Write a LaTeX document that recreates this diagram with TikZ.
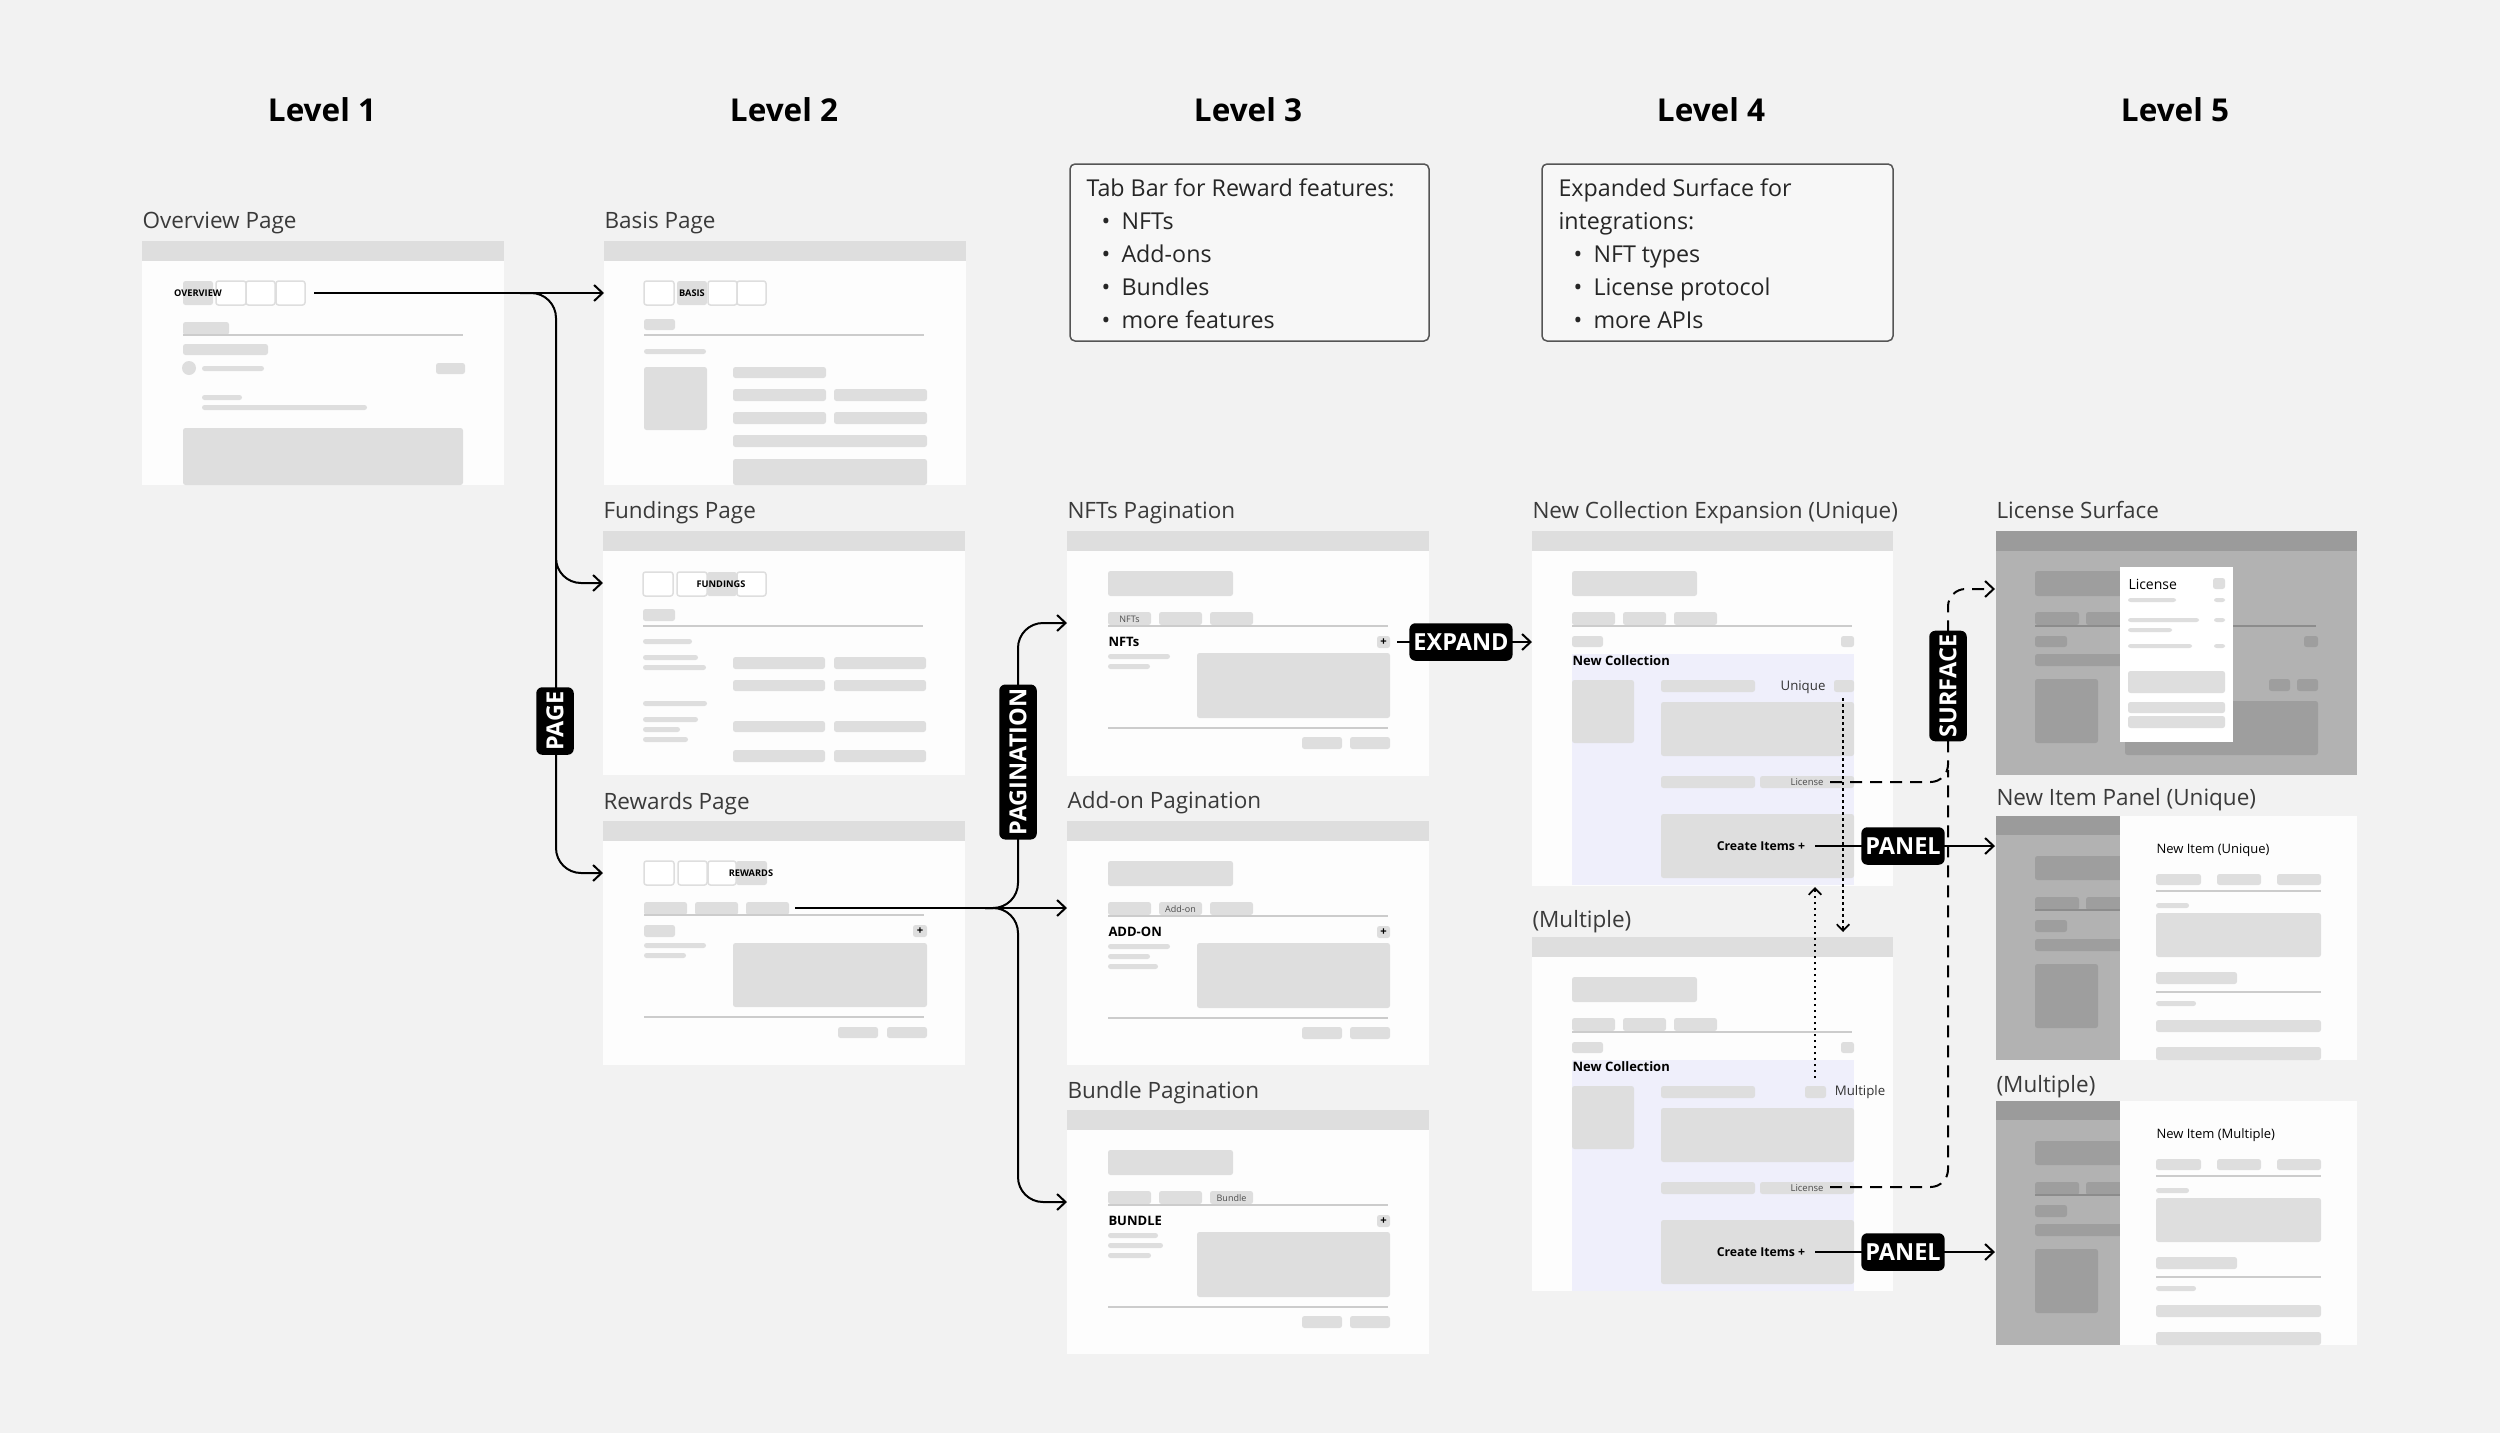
\documentclass[tikz,border=0pt]{standalone}
\usepackage{fontspec}
\setmainfont{Open Sans}
\usetikzlibrary{arrows.meta}
\definecolor{bgc}{HTML}{F2F2F2}
\definecolor{framec}{HTML}{FDFDFD}
\definecolor{barc}{HTML}{DEDEDE}
\definecolor{elc}{HTML}{DEDEDE}
\definecolor{linec}{HTML}{CCCCCC}
\definecolor{lav}{HTML}{EFEFFB}
\definecolor{dimbg}{HTML}{B2B2B2}
\definecolor{dimbar}{HTML}{9B9B9B}
\definecolor{dimel}{HTML}{9E9E9E}
\definecolor{titlec}{HTML}{3A3A3A}
\definecolor{boxc}{HTML}{555555}
\newcommand\myfs[1]{\fontsize{#1}{#1}\selectfont}
\tikzset{
  el/.style={fill=elc, rounded corners=1pt},
  de/.style={fill=dimel, rounded corners=1pt},
  tabo/.style={draw=barc, line width=0.6pt, fill=white, rounded corners=1pt},
  sep/.style={draw=linec, line width=0.5pt},
  dsep/.style={draw=black!45, line width=0.5pt},
  ftitle/.style={anchor=base west, inner sep=0pt, text=titlec, font=\myfs{9.0pt}},
  lvl/.style={anchor=base, inner sep=0pt, font=\bfseries\myfs{12.6pt}},
  boxtxt/.style={anchor=base west, inner sep=0pt, text=black!85, font=\myfs{9.3pt}},
  tabtxt/.style={inner sep=0pt, font=\bfseries\myfs{3.7pt}},
  pilltxt/.style={inner sep=0pt, text=black!70, font=\myfs{3.6pt}},
  head/.style={anchor=west, inner sep=0pt, font=\bfseries\myfs{5.2pt}},
  plus/.style={inner sep=0pt, font=\bfseries\myfs{4.5pt}},
  small/.style={inner sep=0pt, text=black!80, font=\myfs{5.3pt}},
  conn/.style={line width=0.8pt, -{Straight Barb[length=3.4pt,width=6.4pt]}},
  sconn/.style={line width=0.7pt, -{Straight Barb[length=2.6pt,width=5pt]}},
  dashln/.style={line width=0.8pt, dash pattern=on 4.8pt off 3.2pt},
  dotln/.style={line width=0.7pt, dash pattern=on 1pt off 1.4pt},
  tag/.style={fill=black, text=white, font=\bfseries\myfs{9.4pt}, rounded corners=2.4pt, inner xsep=1.6pt, inner ysep=0pt, minimum height=15pt},
  lbox/.style={draw=boxc, line width=0.6pt, fill=bgc!60!white, rounded corners=2pt},
}
\newcommand\wframe[3]{\fill[framec] (#1,#2) rectangle ++(362,#3); \fill[barc] (#1,#2) rectangle ++(362,20);}
\newcommand\pagcommon[1]{%
  \fill[el] (41,40) rectangle (166,65);
  \fill[el] (41,81) rectangle (84,94);
  \fill[el] (92,81) rectangle (135,94);
  \fill[el] (143,81) rectangle (186,94);
  \draw[sep] (41,95) -- (321,95);
  \fill[el] (310,105) rectangle (323,117);
  \node[plus] (#1plus) at (316.5,111) {+};
  \fill[el] (130,122) rectangle (323,187);
  \draw[sep] (41,197) -- (321,197);
  \fill[el] (235,206) rectangle (275,218);
  \fill[el] (283,206) rectangle (323,218);
}
\newcommand\ncecommon[1]{%
  \fill[el] (40,40) rectangle (165,65);
  \fill[el] (40,81) rectangle (83,94);
  \fill[el] (91,81) rectangle (134,94);
  \fill[el] (142,81) rectangle (185,94);
  \draw[sep] (40,95) -- (320,95);
  \fill[el] (40,105) rectangle (71,116);
  \fill[el] (309,105) rectangle (322,116);
  \fill[lav] (40,123) rectangle (322,354);
  \node[head, font=\bfseries\myfs{5.2pt}] (#1nc) at (40,130) {New Collection};
  \fill[el] (40,149) rectangle (102,212);
  \fill[el] (129,149) rectangle (223,161);
  \fill[el] (129,171) rectangle (322,225);
  \fill[el] (129,245) rectangle (223,257);
  \fill[el] (228,245) rectangle (322,257);
  \node[pilltxt, font=\myfs{3.8pt}] (#1lic) at (275,251) {License};
  \fill[el] (129,283) rectangle (322,347);
  \node[inner sep=0pt, font=\bfseries\myfs{4.9pt}] (#1ci) at (229,315) {Create Items +};
}
\newcommand\newitem[2]{%
  \fill[dimbg] (0,0) rectangle (124,244);
  \fill[dimbar] (0,0) rectangle (124,19);
  \fill[de] (39,40) rectangle (140,64);
  \fill[de] (39,81) rectangle (83,94);
  \fill[de] (90,81) rectangle (134,94);
  \draw[dsep] (39,94) -- (130,94);
  \fill[de] (39,104) rectangle (71,116);
  \fill[de] (39,123) rectangle (140,135);
  \fill[de] (39,148) rectangle (102,212);
  \fill[framec] (124,0) rectangle (361,244);
  \node[anchor=west, inner sep=0pt, font=\myfs{5.2pt}] (#1t) at (160,34) {#2};
  \fill[el] (160,58) rectangle (205,69);
  \fill[el] (221,58) rectangle (265,69);
  \fill[el] (281,58) rectangle (325,69);
  \draw[sep] (160,75) -- (325,75);
  \fill[el] (160,87) rectangle (193,92);
  \fill[el] (160,97) rectangle (325,141);
  \fill[el] (160,156) rectangle (241,168);
  \draw[sep] (160,176) -- (325,176);
  \fill[el] (160,185) rectangle (200,190);
  \fill[el] (160,204) rectangle (325,216);
  \fill[el] (160,231) rectangle (325,244);
}
\begin{document}
\begin{tikzpicture}[x=0.4pt, y=-0.4pt]
\useasboundingbox (0,0) rectangle (2500,1433);
\fill[bgc] (0,0) rectangle (2500,1433);

% level headings
\node[lvl] (l1) at (322,121) {Level 1};
\node[lvl] (l2) at (784,121) {Level 2};
\node[lvl] (l3) at (1248,121) {Level 3};
\node[lvl] (l4) at (1711,121) {Level 4};
\node[lvl] (l5) at (2175,121) {Level 5};

% level text boxes
\draw[lbox] (1070,164) rectangle (1429,341);
\node[boxtxt] (b3a) at (1086,196) {Tab Bar for Reward features:};
\node[boxtxt] (b3b1) at (1101,229) {•}; \node[boxtxt] (b3b) at (1121,229) {NFTs};
\node[boxtxt] (b3c1) at (1101,262) {•}; \node[boxtxt] (b3c) at (1121,262) {Add-ons};
\node[boxtxt] (b3d1) at (1101,295) {•}; \node[boxtxt] (b3d) at (1121,295) {Bundles};
\node[boxtxt] (b3e1) at (1101,328) {•}; \node[boxtxt] (b3e) at (1121,328) {more features};
\draw[lbox] (1542,164) rectangle (1893,341);
\node[boxtxt] (b4a) at (1558,196) {Expanded Surface for};
\node[boxtxt] (b4b) at (1558,229) {integrations:};
\node[boxtxt] (b4c1) at (1573,262) {•}; \node[boxtxt] (b4c) at (1593,262) {NFT types};
\node[boxtxt] (b4d1) at (1573,295) {•}; \node[boxtxt] (b4d) at (1593,295) {License protocol};
\node[boxtxt] (b4e1) at (1573,328) {•}; \node[boxtxt] (b4e) at (1593,328) {more APIs};

% titles
\node[ftitle] (tov) at (142,228) {Overview Page};
\node[ftitle] (tba) at (604,228) {Basis Page};
\node[ftitle] (tfu) at (603,518) {Fundings Page};
\node[ftitle] (tre) at (603,809) {Rewards Page};
\node[ftitle] (tnf) at (1067,518) {NFTs Pagination};
\node[ftitle] (tad) at (1067,808) {Add-on Pagination};
\node[ftitle] (tbu) at (1067,1098) {Bundle Pagination};
\node[ftitle] (tnu) at (1532,518) {New Collection Expansion (Unique)};
\node[ftitle] (tnm) at (1532,927) {(Multiple)};
\node[ftitle] (tls) at (1996,518) {License Surface};
\node[ftitle] (tiu) at (1996,805) {New Item Panel (Unique)};
\node[ftitle] (tim) at (1996,1092) {(Multiple)};

% Overview
\wframe{142}{241}{244}
\begin{scope}[shift={(142,241)}]
\fill[el] (41,40) rectangle (71,64);
\draw[tabo] (74,40) rectangle (104,64);
\draw[tabo] (104,40) rectangle (133,64);
\draw[tabo] (134,40) rectangle (163,64);
\node[tabtxt] (ovtab) at (56,52) {OVERVIEW};
\fill[el] (41,81) rectangle (87,94);
\draw[sep] (41,94) -- (321,94);
\fill[el] (41,103) rectangle (126,114);
\fill[elc] (47,127) circle[radius=2.8pt];
\fill[el] (60,125) rectangle (122,130);
\fill[el] (294,122) rectangle (323,133);
\fill[el] (60,154) rectangle (100,159);
\fill[el] (60,164) rectangle (225,169);
\fill[el] (41,187) rectangle (321,244);
\end{scope}

% Basis
\wframe{604}{241}{244}
\begin{scope}[shift={(604,241)}]
\draw[tabo] (40,40) rectangle (70,64);
\fill[el] (73,40) rectangle (103,64);
\draw[tabo] (104,40) rectangle (133,64);
\draw[tabo] (133,40) rectangle (162,64);
\node[tabtxt] (batab) at (88,52) {BASIS};
\fill[el] (40,78) rectangle (71,89);
\draw[sep] (40,94) -- (320,94);
\fill[el] (40,108) rectangle (102,113);
\fill[el] (40,126) rectangle (103,189);
\fill[el] (129,126) rectangle (222,137);
\fill[el] (129,148) rectangle (222,160); \fill[el] (230,148) rectangle (323,160);
\fill[el] (129,171) rectangle (222,183); \fill[el] (230,171) rectangle (323,183);
\fill[el] (129,194) rectangle (323,206);
\fill[el] (129,218) rectangle (323,244);
\end{scope}

% Fundings
\wframe{603}{531}{244}
\begin{scope}[shift={(603,531)}]
\draw[tabo] (40,41) rectangle (70,65);
\draw[tabo] (74,41) rectangle (104,65);
\fill[el] (104,41) rectangle (134,65);
\draw[tabo] (134,41) rectangle (163,65);
\node[tabtxt] (futab) at (118,53) {FUNDINGS};
\fill[el] (40,78) rectangle (72,90);
\draw[sep] (40,95) -- (320,95);
\fill[el] (40,108) rectangle (89,113);
\fill[el] (40,124) rectangle (95,129);
\fill[el] (40,134) rectangle (103,139);
\fill[el] (40,170) rectangle (104,175);
\fill[el] (40,186) rectangle (95,191);
\fill[el] (40,196) rectangle (77,201);
\fill[el] (40,206) rectangle (85,211);
\foreach \ya/\yb in {126/138,149/160,190/201,219/231}{
  \fill[el] (130,\ya) rectangle (222,\yb);
  \fill[el] (231,\ya) rectangle (323,\yb);}
\end{scope}

% Rewards
\wframe{603}{821}{244}
\begin{scope}[shift={(603,821)}]
\draw[tabo] (41,40) rectangle (71,64);
\draw[tabo] (75,40) rectangle (104,64);
\draw[tabo] (105,40) rectangle (133,64);
\fill[el] (133,40) rectangle (164,64);
\node[tabtxt] (retab) at (148,52) {REWARDS};
\fill[el] (41,81) rectangle (84,94);
\fill[el] (92,81) rectangle (135,94);
\fill[el] (143,81) rectangle (186,94);
\draw[sep] (41,94) -- (321,94);
\fill[el] (41,104) rectangle (72,116);
\fill[el] (310,104) rectangle (324,116);
\node[plus] (replus) at (317,110) {+};
\fill[el] (41,122) rectangle (103,127);
\fill[el] (41,132) rectangle (83,137);
\fill[el] (130,122) rectangle (324,186);
\draw[sep] (41,196) -- (321,196);
\fill[el] (235,206) rectangle (275,217);
\fill[el] (284,206) rectangle (324,217);
\end{scope}

% NFTs
\wframe{1067}{531}{245}
\begin{scope}[shift={(1067,531)}]
\pagcommon{nft}
\node[pilltxt] (nftpill) at (62.5,88) {NFTs};
\node[head] (nfthead) at (41,111) {NFTs};
\fill[el] (41,123) rectangle (103,128);
\fill[el] (41,133) rectangle (83,138);
\end{scope}

% Add-on
\wframe{1067}{821}{244}
\begin{scope}[shift={(1067,821)}]
\pagcommon{add}
\node[pilltxt] (addpill) at (113.5,88) {Add-on};
\node[head] (addhead) at (41,111) {ADD-ON};
\fill[el] (41,123) rectangle (103,128);
\fill[el] (41,133) rectangle (83,138);
\fill[el] (41,143) rectangle (91,148);
\end{scope}

% Bundle
\wframe{1067}{1110}{244}
\begin{scope}[shift={(1067,1110)}]
\pagcommon{bun}
\node[pilltxt] (bunpill) at (164.5,88) {Bundle};
\node[head] (bunhead) at (41,111) {BUNDLE};
\fill[el] (41,123) rectangle (91,128);
\fill[el] (41,133) rectangle (96,138);
\fill[el] (41,143) rectangle (84,148);
\end{scope}

% NCE unique
\fill[framec] (1532,531) rectangle ++(361,355);
\fill[barc] (1532,531) rectangle ++(361,20);
\begin{scope}[shift={(1532,531)}]
\ncecommon{nu}
\fill[el] (302,149) rectangle (322,161);
\node[small] (nuq) at (271,156) {Unique};
\end{scope}

% NCE multiple
\fill[framec] (1532,937) rectangle ++(361,354);
\fill[barc] (1532,937) rectangle ++(361,20);
\begin{scope}[shift={(1532,937)}]
\ncecommon{nm}
\fill[el] (273,149) rectangle (294,161);
\node[small] (nmq) at (328,155) {Multiple};
\end{scope}

% License surface
\begin{scope}[shift={(1996,531)}]
\fill[dimbg] (0,0) rectangle (361,244);
\fill[dimbar] (0,0) rectangle (361,20);
\fill[de] (39,40) rectangle (165,65);
\fill[de] (39,81) rectangle (83,94);
\fill[de] (90,81) rectangle (134,94);
\fill[de] (142,81) rectangle (185,94);
\draw[dsep] (39,95) -- (320,95);
\fill[de] (39,105) rectangle (71,116);
\fill[de] (308,105) rectangle (322,116);
\fill[de] (39,123) rectangle (165,135);
\fill[de] (39,148) rectangle (102,212);
\fill[de] (273,148) rectangle (294,160);
\fill[de] (301,148) rectangle (322,160);
\fill[de] (129,170) rectangle (322,224);
\fill[white] (124,36) rectangle (237,211);
\node[anchor=west, inner sep=0pt, font=\myfs{5.6pt}] (lictitle) at (132,53) {License};
\fill[el] (217,47) rectangle (229,58);
\fill[el] (132,67) rectangle (180,71); \fill[el] (218,67) rectangle (229,71);
\fill[el] (132,87) rectangle (203,91); \fill[el] (218,87) rectangle (229,91);
\fill[el] (132,97) rectangle (176,101);
\fill[el] (132,113) rectangle (196,117); \fill[el] (218,113) rectangle (229,117);
\fill[el] (132,140) rectangle (229,162);
\fill[el] (132,171) rectangle (229,182);
\fill[el] (132,185) rectangle (229,197);
\end{scope}

% New item panels
\begin{scope}[shift={(1996,816)}]
\newitem{niu}{New Item (Unique)}
\end{scope}
\begin{scope}[shift={(1996,1101)}]
\newitem{nim}{New Item (Multiple)}
\end{scope}

% ---------- connectors ----------
\coordinate (ovend) at (314,293);
\coordinate (basisin) at (604,293);
\coordinate (fundin) at (603,583);
\coordinate (rewin) at (603,873);
\draw[conn] (ovend) -- (basisin);
\draw[conn, rounded corners=10pt] (520,293) -- (556,293) -- (556,583) -- (fundin);
\draw[conn, rounded corners=10pt] (556,560) -- (556,873) -- (rewin);
\node[tag, rotate=90] (pagetag) at (555,721) {PAGE};

\coordinate (rewend) at (795,908);
\coordinate (nftin) at (1067,623);
\coordinate (addin) at (1067,908);
\coordinate (bunin) at (1067,1202);
\draw[conn] (rewend) -- (addin);
\draw[conn, rounded corners=10pt] (985,908) -- (1018,908) -- (1018,623) -- (nftin);
\draw[conn, rounded corners=10pt] (985,908) -- (1018,908) -- (1018,1202) -- (bunin);
\node[tag, rotate=90] (pagtag) at (1018,762) {PAGINATION};

\coordinate (nftout) at (1397,642);
\coordinate (nuin) at (1532,642);
\draw[conn] (nftout) -- (nuin);
\node[tag] (exptag) at (1461,642) {EXPAND};

\coordinate (licu) at (1830,782);
\coordinate (licm) at (1830,1187);
\coordinate (lsin) at (1995,589);
\draw[dashln, rounded corners=7pt] (licm) -- (1948,1187) -- (1948,770);
\draw[conn, dashln, rounded corners=7pt] (licu) -- (1948,782) -- (1948,589) -- (lsin);
\node[tag, rotate=90] (surftag) at (1948,686) {SURFACE};

\coordinate (cu) at (1815,846);
\coordinate (niuin) at (1995,846);
\draw[conn] (cu) -- (niuin);
\node[tag] (paneltagu) at (1903,846) {PANEL};
\coordinate (cm) at (1815,1252);
\coordinate (nimin) at (1995,1252);
\draw[conn] (cm) -- (nimin);
\node[tag] (paneltagm) at (1903,1252) {PANEL};

\coordinate (uqdot) at (1843,698);
\coordinate (mtop) at (1843,932);
\coordinate (mqdot) at (1815,1078);
\coordinate (ubot) at (1815,887);
\draw[sconn, dotln] (uqdot) -- (mtop);
\draw[sconn, dotln] (mqdot) -- (ubot);
\end{tikzpicture}
\end{document}
